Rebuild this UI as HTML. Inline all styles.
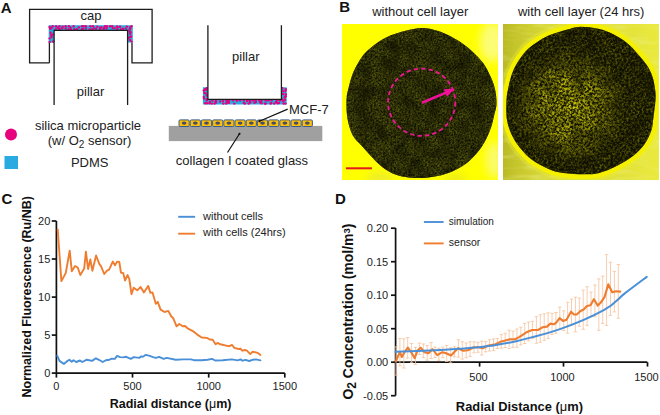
<!DOCTYPE html>
<html><head><meta charset="utf-8"><style>
html,body{margin:0;padding:0;background:#fff;width:660px;height:415px;overflow:hidden}
svg{display:block}
text{font-family:"Liberation Sans",sans-serif}
</style></head><body>
<svg width="660" height="415" viewBox="0 0 660 415">
<defs>
<filter id="spk1" x="0" y="0" width="100%" height="100%" filterUnits="userSpaceOnUse" color-interpolation-filters="sRGB">
  <feTurbulence type="fractalNoise" baseFrequency="0.55" numOctaves="4" seed="4" result="n"/>
  <feColorMatrix in="n" type="matrix" values="0 0 0 0 0.34  0 0 0 0 0.36  0 0 0 0 0.05  2.0 0 0 0 -0.48"/>
</filter>
<filter id="spk2" x="0" y="0" width="100%" height="100%" filterUnits="userSpaceOnUse" color-interpolation-filters="sRGB">
  <feTurbulence type="fractalNoise" baseFrequency="0.45" numOctaves="3" seed="9" result="n"/>
  <feColorMatrix in="n" type="matrix" values="0 0 0 0 0.4  0 0 0 0 0.4  0 0 0 0 0.03  2.4 0 0 0 -0.9"/>
</filter>
<filter id="streak" x="0" y="0" width="100%" height="100%" filterUnits="userSpaceOnUse" color-interpolation-filters="sRGB">
  <feTurbulence type="fractalNoise" baseFrequency="0.04 0.2" numOctaves="2" seed="2" result="n"/>
  <feColorMatrix in="n" type="matrix" values="0 0 0 0 0.95  0 0 0 0 0.95  0 0 0 0 0.6  2.5 0 0 0 -1.1"/>
</filter>
<radialGradient id="ctr2" cx="569" cy="106" r="58" gradientUnits="userSpaceOnUse">
  <stop offset="0" stop-color="#fff"/>
  <stop offset="0.45" stop-color="#fff" stop-opacity="0.75"/>
  <stop offset="1" stop-color="#fff" stop-opacity="0"/>
</radialGradient>
<linearGradient id="out2" x1="503" y1="0" x2="659" y2="0" gradientUnits="userSpaceOnUse">
  <stop offset="0" stop-color="#a0a018" stop-opacity="0.6"/>
  <stop offset="0.5" stop-color="#d8d838" stop-opacity="0"/>
  <stop offset="1" stop-color="#f4f440" stop-opacity="0.5"/>
</linearGradient>
<mask id="m2" maskUnits="userSpaceOnUse" x="503" y="24" width="156" height="156"><rect x="503" y="24" width="156" height="156" fill="url(#ctr2)"/></mask>
<filter id="spk3" x="0" y="0" width="100%" height="100%" filterUnits="userSpaceOnUse" color-interpolation-filters="sRGB">
  <feTurbulence type="fractalNoise" baseFrequency="0.42" numOctaves="3" seed="21" result="n"/>
  <feColorMatrix in="n" type="matrix" values="0 0 0 0 0.85  0 0 0 0 0.83  0 0 0 0 0.04  3.4 0 0 0 -1.3"/>
</filter>
<clipPath id="c1"><path d="M422.0 27.9 C427.3 27.9 432.2 29.1 437.3 30.7 C442.4 32.3 447.9 34.9 452.7 37.5 C457.5 40.1 462.0 43.0 466.2 46.2 C470.4 49.4 474.5 53.4 477.7 56.8 C480.9 60.2 483.1 62.9 485.4 66.4 C487.6 69.9 489.6 74.2 491.2 78.0 C492.8 81.8 494.2 85.2 495.1 89.5 C496.0 93.8 496.7 99.7 496.5 104.0 C496.3 108.3 495.0 111.6 494.1 115.4 C493.2 119.2 492.6 122.8 491.2 127.0 C489.8 131.2 487.6 136.3 485.4 140.5 C483.1 144.7 480.9 148.2 477.7 152.0 C474.5 155.8 470.4 160.4 466.2 163.6 C462.0 166.8 457.5 169.2 452.7 171.3 C447.9 173.4 442.4 175.0 437.3 176.1 C432.2 177.2 427.3 177.8 422.0 178.0 C416.7 178.2 410.6 177.9 405.6 177.1 C400.6 176.3 396.3 175.1 392.1 173.2 C387.9 171.3 384.0 168.4 380.5 165.5 C377.0 162.6 374.1 159.2 370.9 155.9 C367.7 152.6 364.6 149.0 361.5 145.5 C358.4 142.0 354.8 139.5 352.5 135.0 C350.2 130.5 348.5 124.3 347.5 118.5 C346.5 112.7 346.3 105.2 346.5 100.0 C346.7 94.8 347.7 91.9 348.7 87.6 C349.7 83.3 351.0 78.3 352.6 74.1 C354.2 69.9 356.3 66.0 358.4 62.5 C360.5 59.0 362.1 56.1 365.1 52.9 C368.2 49.7 372.5 46.2 376.7 43.3 C380.9 40.4 385.4 37.7 390.2 35.6 C395.0 33.5 400.3 32.0 405.6 30.7 C410.9 29.4 416.7 27.9 422.0 27.9Z"/></clipPath><clipPath id="c2"><path d="M579.0 26.9 C584.3 26.7 592.5 27.5 598.3 28.8 C604.1 30.1 608.9 32.2 613.7 34.6 C618.5 37.0 623.4 40.2 627.2 43.3 C631.1 46.3 633.6 49.4 636.8 52.9 C640.0 56.4 643.8 60.6 646.4 64.5 C649.0 68.3 650.8 71.8 652.2 76.0 C653.7 80.2 654.6 85.5 655.1 89.5 C655.6 93.5 655.8 95.0 655.5 100.0 C655.2 105.0 653.9 114.2 653.2 119.3 C652.5 124.4 652.8 126.6 651.3 130.8 C649.8 135.0 647.5 140.1 644.5 144.3 C641.5 148.5 637.5 152.4 633.0 155.9 C628.5 159.4 623.3 162.6 617.5 165.5 C611.7 168.4 604.7 171.8 598.3 173.2 C591.9 174.6 585.6 174.3 579.0 174.2 C572.4 174.0 564.5 173.4 558.9 172.3 C553.3 171.2 549.9 169.5 545.4 167.4 C540.9 165.3 536.1 162.9 531.9 159.7 C527.7 156.5 523.7 152.4 520.3 148.2 C516.9 144.0 513.9 139.5 511.7 134.7 C509.5 129.9 507.8 125.1 506.9 119.3 C506.0 113.5 506.2 105.6 506.5 100.0 C506.8 94.4 507.8 90.3 508.8 85.7 C509.8 81.1 510.8 76.5 512.6 72.2 C514.4 67.9 516.8 63.5 519.4 59.6 C522.0 55.7 524.6 52.2 528.0 49.0 C531.4 45.8 535.7 42.8 539.6 40.4 C543.5 38.0 546.7 36.4 551.2 34.6 C555.7 32.8 562.0 31.1 566.6 29.8 C571.2 28.5 573.7 27.1 579.0 26.9Z"/></clipPath>
<clipPath id="im2"><rect x="503" y="24" width="156" height="156"/></clipPath>
<filter id="blot" x="0" y="0" width="100%" height="100%" filterUnits="userSpaceOnUse" color-interpolation-filters="sRGB">
  <feTurbulence type="fractalNoise" baseFrequency="0.07" numOctaves="2" seed="5" result="n"/>
  <feColorMatrix in="n" type="matrix" values="0 0 0 0 0.04  0 0 0 0 0.04  0 0 0 0 0  2.2 0 0 0 -0.75"/>
</filter>
<clipPath id="im1"><rect x="342" y="24" width="156" height="156"/></clipPath>
<filter id="blur3" x="-50%" y="-50%" width="200%" height="200%"><feGaussianBlur stdDeviation="4"/></filter>
</defs>
<rect width="660" height="415" fill="#fff"/>
<g id="A"><text x="0.8" y="12.9" font-family="Liberation Sans, sans-serif" font-size="15" font-weight="bold" fill="#111">A</text><path d="M49.4 62.8 H29.6 V9.3 H152.1 V62.8 H132 V42.5 M49.4 62.8 V42.5" fill="none" stroke="#1c1c1c" stroke-width="1.3"/><path d="M48.7 42.8 V25.3 H132.8 V42.5 H127.6 V30.3 H54.1 V42.8 Z" fill="#29abe2"/><g fill="#e6007e"><circle cx="49.6" cy="26.9" r="1.2"/><circle cx="50.1" cy="28.7" r="1.2"/><circle cx="52.7" cy="26.2" r="1.2"/><circle cx="51.5" cy="28.0" r="1.2"/><circle cx="56.1" cy="26.2" r="1.2"/><circle cx="55.6" cy="29.4" r="1.2"/><circle cx="57.6" cy="27.7" r="1.2"/><circle cx="58.8" cy="28.5" r="1.2"/><circle cx="59.5" cy="26.2" r="1.2"/><circle cx="59.7" cy="29.3" r="1.2"/><circle cx="62.8" cy="26.7" r="1.2"/><circle cx="62.0" cy="28.3" r="1.2"/><circle cx="65.6" cy="26.2" r="1.2"/><circle cx="65.7" cy="28.5" r="1.2"/><circle cx="68.9" cy="26.2" r="1.2"/><circle cx="68.5" cy="29.4" r="1.2"/><circle cx="70.5" cy="27.8" r="1.2"/><circle cx="70.8" cy="29.4" r="1.2"/><circle cx="73.6" cy="26.2" r="1.2"/><circle cx="74.4" cy="29.2" r="1.2"/><circle cx="76.8" cy="29.3" r="1.2"/><circle cx="78.8" cy="27.4" r="1.2"/><circle cx="82.0" cy="26.2" r="1.2"/><circle cx="81.9" cy="29.4" r="1.2"/><circle cx="83.6" cy="26.3" r="1.2"/><circle cx="82.9" cy="29.0" r="1.2"/><circle cx="85.8" cy="26.2" r="1.2"/><circle cx="85.8" cy="28.4" r="1.2"/><circle cx="90.4" cy="26.2" r="1.2"/><circle cx="89.6" cy="29.4" r="1.2"/><circle cx="93.0" cy="26.2" r="1.2"/><circle cx="91.7" cy="29.4" r="1.2"/><circle cx="93.8" cy="28.4" r="1.2"/><circle cx="97.3" cy="26.8" r="1.2"/><circle cx="96.0" cy="28.8" r="1.2"/><circle cx="100.1" cy="27.7" r="1.2"/><circle cx="100.0" cy="29.3" r="1.2"/><circle cx="101.4" cy="27.5" r="1.2"/><circle cx="103.6" cy="29.4" r="1.2"/><circle cx="104.9" cy="26.2" r="1.2"/><circle cx="104.1" cy="28.0" r="1.2"/><circle cx="106.9" cy="26.2" r="1.2"/><circle cx="106.5" cy="28.2" r="1.2"/><circle cx="110.1" cy="26.2" r="1.2"/><circle cx="112.2" cy="26.2" r="1.2"/><circle cx="112.7" cy="28.1" r="1.2"/><circle cx="117.0" cy="26.5" r="1.2"/><circle cx="114.6" cy="28.1" r="1.2"/><circle cx="117.7" cy="27.4" r="1.2"/><circle cx="117.1" cy="29.4" r="1.2"/><circle cx="120.0" cy="26.7" r="1.2"/><circle cx="121.0" cy="29.4" r="1.2"/><circle cx="123.0" cy="28.7" r="1.2"/><circle cx="126.9" cy="26.6" r="1.2"/><circle cx="125.8" cy="28.4" r="1.2"/><circle cx="130.1" cy="27.4" r="1.2"/><circle cx="129.7" cy="29.4" r="1.2"/><circle cx="131.5" cy="26.2" r="1.2"/><circle cx="130.2" cy="28.5" r="1.2"/><circle cx="50.6" cy="32.7" r="1.2"/><circle cx="51.2" cy="35.3" r="1.2"/><circle cx="49.6" cy="38.4" r="1.2"/><circle cx="49.6" cy="41.9" r="1.2"/><circle cx="52.7" cy="34.4" r="1.2"/><circle cx="51.6" cy="37.0" r="1.2"/><circle cx="53.2" cy="41.5" r="1.2"/><circle cx="129.7" cy="31.2" r="1.2"/><circle cx="130.1" cy="33.7" r="1.2"/><circle cx="130.1" cy="36.9" r="1.2"/><circle cx="128.5" cy="38.0" r="1.2"/><circle cx="130.6" cy="32.3" r="1.2"/><circle cx="131.1" cy="36.5" r="1.2"/><circle cx="130.2" cy="40.0" r="1.2"/><circle cx="131.6" cy="41.6" r="1.2"/></g><path d="M54.1 105 V30.3 H127.6 V105" fill="none" stroke="#1c1c1c" stroke-width="1.3"/><text x="91" y="20" text-anchor="middle" font-family="Liberation Sans, sans-serif" font-size="13" fill="#222">cap</text><text x="90.5" y="95.5" text-anchor="middle" font-family="Liberation Sans, sans-serif" font-size="13" fill="#222">pillar</text><circle cx="11" cy="134.5" r="6" fill="#e6007e"/><rect x="4.5" y="156" width="13.5" height="13" fill="#29abe2"/><text x="88" y="130" text-anchor="middle" font-family="Liberation Sans, sans-serif" font-size="13" fill="#222">silica microparticle</text><text x="89.5" y="145" text-anchor="middle" font-family="Liberation Sans, sans-serif" font-size="13" fill="#222">(w/ O<tspan font-size="10" dy="2.5">2</tspan><tspan dy="-2.5"> sensor)</tspan></text><text x="89.7" y="166.5" text-anchor="middle" font-family="Liberation Sans, sans-serif" font-size="13" fill="#222">PDMS</text><path d="M202.9 87.3 H286.7 V104.5 H202.9 Z" fill="#29abe2"/><g fill="#e6007e"><circle cx="205.1" cy="89.3" r="1.2"/><circle cx="203.8" cy="90.5" r="1.2"/><circle cx="204.4" cy="92.9" r="1.2"/><circle cx="203.8" cy="96.9" r="1.2"/><circle cx="204.0" cy="98.6" r="1.2"/><circle cx="205.2" cy="103.3" r="1.2"/><circle cx="206.7" cy="88.2" r="1.2"/><circle cx="205.9" cy="89.8" r="1.2"/><circle cx="205.8" cy="93.4" r="1.2"/><circle cx="206.8" cy="95.5" r="1.2"/><circle cx="206.8" cy="99.1" r="1.2"/><circle cx="206.8" cy="100.2" r="1.2"/><circle cx="207.0" cy="103.3" r="1.2"/><circle cx="209.9" cy="101.7" r="1.2"/><circle cx="209.5" cy="103.2" r="1.2"/><circle cx="212.3" cy="100.6" r="1.2"/><circle cx="211.8" cy="103.6" r="1.2"/><circle cx="215.5" cy="101.8" r="1.2"/><circle cx="214.6" cy="103.6" r="1.2"/><circle cx="216.1" cy="100.3" r="1.2"/><circle cx="216.0" cy="102.6" r="1.2"/><circle cx="220.2" cy="101.4" r="1.2"/><circle cx="222.9" cy="101.1" r="1.2"/><circle cx="223.3" cy="103.6" r="1.2"/><circle cx="226.2" cy="100.4" r="1.2"/><circle cx="226.2" cy="103.6" r="1.2"/><circle cx="227.4" cy="100.7" r="1.2"/><circle cx="226.8" cy="102.8" r="1.2"/><circle cx="229.0" cy="100.8" r="1.2"/><circle cx="228.9" cy="102.8" r="1.2"/><circle cx="232.9" cy="100.3" r="1.2"/><circle cx="236.7" cy="100.3" r="1.2"/><circle cx="234.3" cy="103.6" r="1.2"/><circle cx="237.1" cy="100.5" r="1.2"/><circle cx="240.1" cy="100.3" r="1.2"/><circle cx="243.9" cy="100.3" r="1.2"/><circle cx="243.8" cy="103.0" r="1.2"/><circle cx="247.1" cy="101.0" r="1.2"/><circle cx="244.9" cy="103.6" r="1.2"/><circle cx="249.5" cy="100.6" r="1.2"/><circle cx="248.7" cy="103.6" r="1.2"/><circle cx="250.2" cy="100.7" r="1.2"/><circle cx="250.2" cy="102.4" r="1.2"/><circle cx="253.1" cy="100.3" r="1.2"/><circle cx="254.5" cy="102.7" r="1.2"/><circle cx="255.6" cy="100.3" r="1.2"/><circle cx="255.8" cy="102.0" r="1.2"/><circle cx="259.2" cy="100.3" r="1.2"/><circle cx="260.2" cy="102.2" r="1.2"/><circle cx="261.5" cy="100.7" r="1.2"/><circle cx="261.4" cy="103.2" r="1.2"/><circle cx="265.6" cy="100.3" r="1.2"/><circle cx="264.9" cy="103.6" r="1.2"/><circle cx="266.6" cy="100.3" r="1.2"/><circle cx="265.8" cy="103.6" r="1.2"/><circle cx="268.7" cy="100.3" r="1.2"/><circle cx="270.6" cy="103.6" r="1.2"/><circle cx="271.5" cy="100.3" r="1.2"/><circle cx="271.3" cy="103.1" r="1.2"/><circle cx="276.0" cy="101.9" r="1.2"/><circle cx="274.2" cy="103.6" r="1.2"/><circle cx="277.1" cy="100.3" r="1.2"/><circle cx="277.4" cy="103.2" r="1.2"/><circle cx="280.1" cy="100.3" r="1.2"/><circle cx="279.0" cy="103.0" r="1.2"/><circle cx="282.3" cy="88.2" r="1.2"/><circle cx="283.0" cy="91.1" r="1.2"/><circle cx="283.1" cy="94.0" r="1.2"/><circle cx="282.3" cy="99.5" r="1.2"/><circle cx="283.3" cy="101.2" r="1.2"/><circle cx="283.6" cy="103.6" r="1.2"/><circle cx="285.8" cy="89.3" r="1.2"/><circle cx="285.4" cy="91.0" r="1.2"/><circle cx="285.8" cy="94.2" r="1.2"/><circle cx="285.8" cy="96.3" r="1.2"/><circle cx="284.7" cy="97.2" r="1.2"/><circle cx="285.0" cy="99.8" r="1.2"/><circle cx="285.5" cy="103.6" r="1.2"/></g><path d="M207.9 25.2 V99.4 H281.4 V25.2" fill="#fff" stroke="#1c1c1c" stroke-width="1.3"/><text x="245.8" y="61" text-anchor="middle" font-family="Liberation Sans, sans-serif" font-size="13" fill="#222">pillar</text><rect x="168.8" y="125.9" width="153.5" height="15.2" fill="#a0a0a0"/><rect x="179.0" y="119.9" width="10.2" height="6.6" rx="1.2" fill="#fbbf0a" stroke="#3b5b8c" stroke-width="1"/><ellipse cx="184.1" cy="123.1" rx="2.4" ry="1.6" fill="#4a4e62"/><rect x="190.2" y="119.9" width="10.2" height="6.6" rx="1.2" fill="#fbbf0a" stroke="#3b5b8c" stroke-width="1"/><ellipse cx="195.3" cy="123.1" rx="2.4" ry="1.6" fill="#4a4e62"/><rect x="201.4" y="119.9" width="10.2" height="6.6" rx="1.2" fill="#fbbf0a" stroke="#3b5b8c" stroke-width="1"/><ellipse cx="206.5" cy="123.1" rx="2.4" ry="1.6" fill="#4a4e62"/><rect x="212.6" y="119.9" width="10.2" height="6.6" rx="1.2" fill="#fbbf0a" stroke="#3b5b8c" stroke-width="1"/><ellipse cx="217.7" cy="123.1" rx="2.4" ry="1.6" fill="#4a4e62"/><rect x="223.8" y="119.9" width="10.2" height="6.6" rx="1.2" fill="#fbbf0a" stroke="#3b5b8c" stroke-width="1"/><ellipse cx="228.9" cy="123.1" rx="2.4" ry="1.6" fill="#4a4e62"/><rect x="235.0" y="119.9" width="10.2" height="6.6" rx="1.2" fill="#fbbf0a" stroke="#3b5b8c" stroke-width="1"/><ellipse cx="240.1" cy="123.1" rx="2.4" ry="1.6" fill="#4a4e62"/><rect x="246.2" y="119.9" width="10.2" height="6.6" rx="1.2" fill="#fbbf0a" stroke="#3b5b8c" stroke-width="1"/><ellipse cx="251.3" cy="123.1" rx="2.4" ry="1.6" fill="#4a4e62"/><rect x="257.4" y="119.9" width="10.2" height="6.6" rx="1.2" fill="#fbbf0a" stroke="#3b5b8c" stroke-width="1"/><ellipse cx="262.5" cy="123.1" rx="2.4" ry="1.6" fill="#4a4e62"/><rect x="268.6" y="119.9" width="10.2" height="6.6" rx="1.2" fill="#fbbf0a" stroke="#3b5b8c" stroke-width="1"/><ellipse cx="273.7" cy="123.1" rx="2.4" ry="1.6" fill="#4a4e62"/><rect x="279.8" y="119.9" width="10.2" height="6.6" rx="1.2" fill="#fbbf0a" stroke="#3b5b8c" stroke-width="1"/><ellipse cx="284.9" cy="123.1" rx="2.4" ry="1.6" fill="#4a4e62"/><rect x="291.0" y="119.9" width="10.2" height="6.6" rx="1.2" fill="#fbbf0a" stroke="#3b5b8c" stroke-width="1"/><ellipse cx="296.1" cy="123.1" rx="2.4" ry="1.6" fill="#4a4e62"/><rect x="302.2" y="119.9" width="10.2" height="6.6" rx="1.2" fill="#fbbf0a" stroke="#3b5b8c" stroke-width="1"/><ellipse cx="307.3" cy="123.1" rx="2.4" ry="1.6" fill="#4a4e62"/><path d="M287.7 109.1 L259.4 121.2 M239.5 133.8 L227.5 152.5" stroke="#111" stroke-width="1.2" fill="none"/><circle cx="259.4" cy="121.2" r="1.1" fill="#111"/><circle cx="239.5" cy="133.8" r="1.1" fill="#111"/><text x="289" y="113.7" font-family="Liberation Sans, sans-serif" font-size="13" fill="#222">MCF-7</text><text x="242" y="165" text-anchor="middle" font-family="Liberation Sans, sans-serif" font-size="13" fill="#222">collagen I coated glass</text></g><g id="B"><text x="339.2" y="11.8" font-family="Liberation Sans, sans-serif" font-size="15" font-weight="bold" fill="#111">B</text><text x="420.2" y="15.5" text-anchor="middle" font-family="Liberation Sans, sans-serif" font-size="13" fill="#222">without cell layer</text><text x="581.2" y="15.5" text-anchor="middle" font-family="Liberation Sans, sans-serif" font-size="13" fill="#222">with cell layer (24 hrs)</text><rect x="342" y="24" width="156" height="156" fill="#ffff00"/><g clip-path="url(#im1)" filter="url(#blur3)" opacity="0.55"><ellipse cx="492" cy="42" rx="12" ry="20" fill="#fafad8"/><ellipse cx="494" cy="160" rx="8" ry="18" fill="#f6f6c8"/><ellipse cx="380" cy="178" rx="14" ry="5" fill="#d8d860"/><ellipse cx="455" cy="179" rx="12" ry="4" fill="#d0d040"/></g><g clip-path="url(#c1)"><rect x="342" y="24" width="156" height="156" fill="#121204"/><rect x="342" y="24" width="156" height="156" filter="url(#spk1)" opacity="0.9"/><rect x="342" y="24" width="156" height="156" filter="url(#blot)" opacity="0.55"/></g><circle cx="421.7" cy="102.2" r="33.6" fill="none" stroke="#e8198e" stroke-width="1.8" stroke-dasharray="4.5 3"/><path d="M422 102.7 L446 92.6" stroke="#f0109a" stroke-width="2.6"/><path d="M454.8 88.5 L443.7 89.3 L447.1 96.7 Z" fill="#f0109a"/><path d="M345.9 168.3 H371.9" stroke="#e3191c" stroke-width="2"/><g clip-path="url(#im2)"><rect x="503" y="24" width="156" height="156" fill="#e0e03a"/><rect x="503" y="24" width="156" height="156" fill="url(#out2)"/><rect x="503" y="24" width="156" height="156" filter="url(#streak)" opacity="0.35"/><path d="M579.0 26.9 C584.3 26.7 592.5 27.5 598.3 28.8 C604.1 30.1 608.9 32.2 613.7 34.6 C618.5 37.0 623.4 40.2 627.2 43.3 C631.1 46.3 633.6 49.4 636.8 52.9 C640.0 56.4 643.8 60.6 646.4 64.5 C649.0 68.3 650.8 71.8 652.2 76.0 C653.7 80.2 654.6 85.5 655.1 89.5 C655.6 93.5 655.8 95.0 655.5 100.0 C655.2 105.0 653.9 114.2 653.2 119.3 C652.5 124.4 652.8 126.6 651.3 130.8 C649.8 135.0 647.5 140.1 644.5 144.3 C641.5 148.5 637.5 152.4 633.0 155.9 C628.5 159.4 623.3 162.6 617.5 165.5 C611.7 168.4 604.7 171.8 598.3 173.2 C591.9 174.6 585.6 174.3 579.0 174.2 C572.4 174.0 564.5 173.4 558.9 172.3 C553.3 171.2 549.9 169.5 545.4 167.4 C540.9 165.3 536.1 162.9 531.9 159.7 C527.7 156.5 523.7 152.4 520.3 148.2 C516.9 144.0 513.9 139.5 511.7 134.7 C509.5 129.9 507.8 125.1 506.9 119.3 C506.0 113.5 506.2 105.6 506.5 100.0 C506.8 94.4 507.8 90.3 508.8 85.7 C509.8 81.1 510.8 76.5 512.6 72.2 C514.4 67.9 516.8 63.5 519.4 59.6 C522.0 55.7 524.6 52.2 528.0 49.0 C531.4 45.8 535.7 42.8 539.6 40.4 C543.5 38.0 546.7 36.4 551.2 34.6 C555.7 32.8 562.0 31.1 566.6 29.8 C571.2 28.5 573.7 27.1 579.0 26.9Z" fill="none" stroke="#eeee30" stroke-width="15" opacity="0.35"/><path d="M579.0 26.9 C584.3 26.7 592.5 27.5 598.3 28.8 C604.1 30.1 608.9 32.2 613.7 34.6 C618.5 37.0 623.4 40.2 627.2 43.3 C631.1 46.3 633.6 49.4 636.8 52.9 C640.0 56.4 643.8 60.6 646.4 64.5 C649.0 68.3 650.8 71.8 652.2 76.0 C653.7 80.2 654.6 85.5 655.1 89.5 C655.6 93.5 655.8 95.0 655.5 100.0 C655.2 105.0 653.9 114.2 653.2 119.3 C652.5 124.4 652.8 126.6 651.3 130.8 C649.8 135.0 647.5 140.1 644.5 144.3 C641.5 148.5 637.5 152.4 633.0 155.9 C628.5 159.4 623.3 162.6 617.5 165.5 C611.7 168.4 604.7 171.8 598.3 173.2 C591.9 174.6 585.6 174.3 579.0 174.2 C572.4 174.0 564.5 173.4 558.9 172.3 C553.3 171.2 549.9 169.5 545.4 167.4 C540.9 165.3 536.1 162.9 531.9 159.7 C527.7 156.5 523.7 152.4 520.3 148.2 C516.9 144.0 513.9 139.5 511.7 134.7 C509.5 129.9 507.8 125.1 506.9 119.3 C506.0 113.5 506.2 105.6 506.5 100.0 C506.8 94.4 507.8 90.3 508.8 85.7 C509.8 81.1 510.8 76.5 512.6 72.2 C514.4 67.9 516.8 63.5 519.4 59.6 C522.0 55.7 524.6 52.2 528.0 49.0 C531.4 45.8 535.7 42.8 539.6 40.4 C543.5 38.0 546.7 36.4 551.2 34.6 C555.7 32.8 562.0 31.1 566.6 29.8 C571.2 28.5 573.7 27.1 579.0 26.9Z" fill="none" stroke="#f4f000" stroke-width="9"/></g><g clip-path="url(#c2)"><rect x="503" y="24" width="156" height="156" fill="#121204"/><rect x="503" y="24" width="156" height="156" filter="url(#spk2)" opacity="0.9"/><rect x="503" y="24" width="156" height="156" filter="url(#spk3)" mask="url(#m2)"/><rect x="503" y="24" width="156" height="156" filter="url(#blot)" opacity="0.45"/></g></g><g id="C"><text x="1.6" y="203.8" font-family="Liberation Sans, sans-serif" font-size="15" font-weight="bold" fill="#111">C</text><path d="M56.4 221 V373.1 H284.8" fill="none" stroke="#111" stroke-width="1.7"/><path d="M51.8 373.1 H56.4" stroke="#111" stroke-width="1.7"/><text x="50.3" y="377.1" text-anchor="end" font-family="Liberation Sans, sans-serif" font-size="11" fill="#222">0</text><path d="M51.8 335.1 H56.4" stroke="#111" stroke-width="1.7"/><text x="50.3" y="339.1" text-anchor="end" font-family="Liberation Sans, sans-serif" font-size="11" fill="#222">5</text><path d="M51.8 297.1 H56.4" stroke="#111" stroke-width="1.7"/><text x="50.3" y="301.1" text-anchor="end" font-family="Liberation Sans, sans-serif" font-size="11" fill="#222">10</text><path d="M51.8 259.0 H56.4" stroke="#111" stroke-width="1.7"/><text x="50.3" y="263.0" text-anchor="end" font-family="Liberation Sans, sans-serif" font-size="11" fill="#222">15</text><path d="M51.8 221.0 H56.4" stroke="#111" stroke-width="1.7"/><text x="50.3" y="225.0" text-anchor="end" font-family="Liberation Sans, sans-serif" font-size="11" fill="#222">20</text><path d="M56.4 373.1 V377.6" stroke="#111" stroke-width="1.7"/><text x="56.4" y="390" text-anchor="middle" font-family="Liberation Sans, sans-serif" font-size="11" fill="#222">0</text><path d="M132.5 373.1 V377.6" stroke="#111" stroke-width="1.7"/><text x="132.5" y="390" text-anchor="middle" font-family="Liberation Sans, sans-serif" font-size="11" fill="#222">500</text><path d="M208.7 373.1 V377.6" stroke="#111" stroke-width="1.7"/><text x="208.7" y="390" text-anchor="middle" font-family="Liberation Sans, sans-serif" font-size="11" fill="#222">1000</text><path d="M284.8 373.1 V377.6" stroke="#111" stroke-width="1.7"/><text x="284.8" y="390" text-anchor="middle" font-family="Liberation Sans, sans-serif" font-size="11" fill="#222">1500</text><text x="170.6" y="408" text-anchor="middle" font-family="Liberation Sans, sans-serif" font-size="12.5" font-weight="bold" fill="#111">Radial distance (<tspan font-weight="normal">μ</tspan>m)</text><text transform="translate(31.3 296.8) rotate(-90)" text-anchor="middle" font-family="Liberation Sans, sans-serif" font-size="12.5" font-weight="bold" fill="#111">Normalized Fluorescence (Ru/NB)</text><path d="M57.3 355.9 L59.5 360.9 L63.8 363.9 L66.8 361.4 L69.4 359.8 L71.7 361.7 L73.5 360.2 L76.2 362.0 L80.0 360.5 L82.3 362.0 L86.8 359.7 L92.1 360.9 L95.9 358.3 L98.9 359.8 L102.7 362.0 L105.8 360.2 L109.5 359.7 L111.8 358.6 L114.8 358.9 L117.1 355.9 L120.2 357.1 L123.2 357.4 L126.2 356.8 L130.8 358.9 L133.8 357.1 L139.1 357.9 L141.4 356.4 L142.9 356.8 L145.9 354.8 L149.7 355.9 L153.0 357.1 L156.1 357.9 L159.1 356.8 L163.6 358.9 L166.7 357.9 L175.8 359.8 L183.3 359.4 L190.9 359.4 L193.9 360.2 L201.5 360.2 L207.6 359.8 L212.1 358.9 L215.2 360.5 L222.7 360.2 L231.8 359.4 L237.7 360.4 L240.6 359.4 L242.5 360.7 L245.4 359.9 L249.3 361.0 L253.1 359.7 L256.0 359.4 L260.4 360.4" fill="none" stroke="#4a90d8" stroke-width="1.9" stroke-linejoin="round" stroke-linecap="round" /><path d="M57.7 229.5 L61.4 281.1 L65.8 272.9 L69.7 250.6 L71.8 271.2 L75.1 266.0 L77.7 267.5 L80.3 275.0 L84.2 268.6 L85.9 251.6 L88.1 269.0 L90.3 259.5 L92.4 270.7 L96.1 255.5 L99.4 264.2 L101.1 266.4 L104.2 274.0 L107.0 270.7 L109.1 269.7 L112.8 261.6 L115.0 265.3 L117.2 261.6 L119.3 262.0 L121.0 272.9 L123.2 272.9 L125.0 280.5 L127.6 275.0 L129.3 279.0 L131.5 294.2 L133.7 287.7 L137.3 290.3 L140.6 287.0 L143.9 292.4 L148.2 285.9 L150.4 292.9 L152.5 292.4 L155.8 303.8 L157.7 301.8 L160.6 309.6 L164.5 312.0 L168.3 310.9 L171.2 316.3 L173.2 318.2 L176.6 326.3 L179.3 324.0 L182.8 326.3 L185.1 326.0 L187.6 328.3 L193.4 331.4 L197.3 334.6 L201.7 337.5 L206.9 337.9 L209.8 339.5 L212.7 339.8 L215.6 344.3 L217.5 342.9 L220.4 344.3 L226.2 345.6 L229.1 346.2 L232.1 345.0 L234.3 347.8 L236.8 348.5 L239.2 349.1 L240.1 348.5 L242.5 350.7 L245.0 350.0 L246.9 350.7 L250.3 354.1 L252.7 351.7 L256.0 352.4 L258.0 353.1 L260.4 354.9" fill="none" stroke="#ef7d2f" stroke-width="1.9" stroke-linejoin="round" stroke-linecap="round" /><path d="M178.2 216.8 H195.1" stroke="#4a90d8" stroke-width="1.9"/><path d="M178.2 233.7 H195.1" stroke="#ef7d2f" stroke-width="1.9"/><text x="203.1" y="219.6" font-family="Liberation Sans, sans-serif" font-size="11" fill="#222">without cells</text><text x="203.1" y="236.4" font-family="Liberation Sans, sans-serif" font-size="11" fill="#222">with cells (24hrs)</text></g><g id="D"><text x="334.9" y="203.9" font-family="Liberation Sans, sans-serif" font-size="15" font-weight="bold" fill="#111">D</text><path d="M395.6 228 V395.6" fill="none" stroke="#111" stroke-width="1.7"/><path d="M395.6 362.2 H647.3" fill="none" stroke="#111" stroke-width="1.7"/><path d="M391 228.2 H395.6" stroke="#111" stroke-width="1.7"/><text x="388.2" y="232.2" text-anchor="end" font-family="Liberation Sans, sans-serif" font-size="11" fill="#222">0.20</text><path d="M391 261.7 H395.6" stroke="#111" stroke-width="1.7"/><text x="388.2" y="265.7" text-anchor="end" font-family="Liberation Sans, sans-serif" font-size="11" fill="#222">0.15</text><path d="M391 295.2 H395.6" stroke="#111" stroke-width="1.7"/><text x="388.2" y="299.2" text-anchor="end" font-family="Liberation Sans, sans-serif" font-size="11" fill="#222">0.10</text><path d="M391 328.7 H395.6" stroke="#111" stroke-width="1.7"/><text x="388.2" y="332.7" text-anchor="end" font-family="Liberation Sans, sans-serif" font-size="11" fill="#222">0.05</text><path d="M391 362.2 H395.6" stroke="#111" stroke-width="1.7"/><text x="388.2" y="366.2" text-anchor="end" font-family="Liberation Sans, sans-serif" font-size="11" fill="#222">0.00</text><path d="M391 395.7 H395.6" stroke="#111" stroke-width="1.7"/><text x="388.2" y="399.7" text-anchor="end" font-family="Liberation Sans, sans-serif" font-size="11" fill="#222">-0.05</text><path d="M479.6 362.2 V366.6" stroke="#111" stroke-width="1.7"/><text x="478.5" y="381.2" text-anchor="middle" font-family="Liberation Sans, sans-serif" font-size="11" fill="#222">500</text><path d="M563.5 362.2 V366.6" stroke="#111" stroke-width="1.7"/><text x="562.4" y="381.2" text-anchor="middle" font-family="Liberation Sans, sans-serif" font-size="11" fill="#222">1000</text><path d="M647.5 362.2 V366.6" stroke="#111" stroke-width="1.7"/><text x="646.4" y="381.2" text-anchor="middle" font-family="Liberation Sans, sans-serif" font-size="11" fill="#222">1500</text><text x="519.4" y="411.3" text-anchor="middle" font-family="Liberation Sans, sans-serif" font-size="12.9" font-weight="bold" fill="#111">Radial Distance (<tspan font-weight="normal">μ</tspan>m)</text><text transform="translate(353.2 399.6) rotate(-90)" font-family="Liberation Sans, sans-serif" font-size="14" font-weight="bold" fill="#111">O<tspan dy="3" font-size="12">2</tspan><tspan dy="-3"> Concentration (mol/m</tspan><tspan dy="-3.2" font-size="9.5">3</tspan><tspan dy="3.2">)</tspan></text><path d="M396.0 346.8 V375.2 M394.3 346.8 H397.7 M394.3 375.2 H397.7 M399.9 338.6 V365.8 M398.2 338.6 H401.6 M398.2 365.8 H401.6 M403.8 338.8 V368.0 M402.1 338.8 H405.5 M402.1 368.0 H405.5 M407.7 337.5 V358.2 M406.0 337.5 H409.4 M406.0 358.2 H409.4 M411.6 343.5 V362.4 M409.9 343.5 H413.3 M409.9 362.4 H413.3 M415.5 347.4 V364.6 M413.8 347.4 H417.2 M413.8 364.6 H417.2 M419.4 343.0 V354.5 M417.7 343.0 H421.1 M417.7 354.5 H421.1 M423.3 343.9 V357.7 M421.6 343.9 H425.0 M421.6 357.7 H425.0 M427.2 345.5 V360.2 M425.5 345.5 H428.9 M425.5 360.2 H428.9 M431.1 342.6 V358.5 M429.4 342.6 H432.8 M429.4 358.5 H432.8 M435.0 347.1 V357.6 M433.3 347.1 H436.7 M433.3 357.6 H436.7 M438.9 348.2 V360.3 M437.2 348.2 H440.6 M437.2 360.3 H440.6 M442.8 347.1 V357.6 M441.1 347.1 H444.5 M441.1 357.6 H444.5 M446.7 345.4 V361.5 M445.0 345.4 H448.4 M445.0 361.5 H448.4 M450.6 347.7 V362.8 M448.9 347.7 H452.3 M448.9 362.8 H452.3 M454.5 346.7 V356.9 M452.8 346.7 H456.2 M452.8 356.9 H456.2 M458.4 339.8 V357.2 M456.7 339.8 H460.1 M456.7 357.2 H460.1 M462.3 341.8 V359.1 M460.6 341.8 H464.0 M460.6 359.1 H464.0 M466.2 343.0 V357.8 M464.5 343.0 H467.9 M464.5 357.8 H467.9 M470.1 341.8 V356.4 M468.4 341.8 H471.8 M468.4 356.4 H471.8 M474.0 341.8 V352.8 M472.3 341.8 H475.7 M472.3 352.8 H475.7 M477.9 342.3 V352.3 M476.2 342.3 H479.6 M476.2 352.3 H479.6 M481.8 341.1 V355.0 M480.1 341.1 H483.5 M480.1 355.0 H483.5 M485.7 341.6 V351.8 M484.0 341.6 H487.4 M484.0 351.8 H487.4 M489.6 339.7 V351.0 M487.9 339.7 H491.3 M487.9 351.0 H491.3 M493.5 338.8 V350.5 M491.8 338.8 H495.2 M491.8 350.5 H495.2 M497.4 338.4 V348.4 M495.7 338.4 H499.1 M495.7 348.4 H499.1 M501.3 334.6 V348.3 M499.6 334.6 H503.0 M499.6 348.3 H503.0 M505.2 333.3 V347.5 M503.5 333.3 H506.9 M503.5 347.5 H506.9 M509.1 330.2 V348.6 M507.4 330.2 H510.8 M507.4 348.6 H510.8 M513.0 331.1 V347.4 M511.3 331.1 H514.7 M511.3 347.4 H514.7 M516.9 329.1 V347.4 M515.2 329.1 H518.6 M515.2 347.4 H518.6 M520.8 327.2 V344.9 M519.1 327.2 H522.5 M519.1 344.9 H522.5 M524.7 323.4 V343.5 M523.0 323.4 H526.4 M523.0 343.5 H526.4 M528.6 322.0 V340.8 M526.9 322.0 H530.3 M526.9 340.8 H530.3 M532.5 321.3 V338.7 M530.8 321.3 H534.2 M530.8 338.7 H534.2 M536.4 316.7 V343.3 M534.7 316.7 H538.1 M534.7 343.3 H538.1 M540.3 314.8 V342.3 M538.6 314.8 H542.0 M538.6 342.3 H542.0 M544.2 313.8 V340.3 M542.5 313.8 H545.9 M542.5 340.3 H545.9 M548.1 312.8 V338.5 M546.4 312.8 H549.8 M546.4 338.5 H549.8 M552.0 313.3 V334.6 M550.3 313.3 H553.7 M550.3 334.6 H553.7 M555.9 312.5 V333.3 M554.2 312.5 H557.6 M554.2 333.3 H557.6 M559.8 307.1 V329.4 M558.1 307.1 H561.5 M558.1 329.4 H561.5 M563.7 310.8 V330.5 M562.0 310.8 H565.4 M562.0 330.5 H565.4 M567.6 302.3 V333.2 M565.9 302.3 H569.3 M565.9 333.2 H569.3 M571.5 299.1 V325.3 M569.8 299.1 H573.2 M569.8 325.3 H573.2 M575.4 297.2 V331.8 M573.7 297.2 H577.1 M573.7 331.8 H577.1 M579.3 298.1 V326.2 M577.6 298.1 H581.0 M577.6 326.2 H581.0 M583.2 290.1 V329.3 M581.5 290.1 H584.9 M581.5 329.3 H584.9 M587.1 286.7 V325.3 M585.4 286.7 H588.8 M585.4 325.3 H588.8 M591.0 292.1 V316.7 M589.3 292.1 H592.7 M589.3 316.7 H592.7 M594.9 285.0 V316.7 M593.2 285.0 H596.6 M593.2 316.7 H596.6 M598.8 278.9 V330.3 M597.1 278.9 H600.5 M597.1 330.3 H600.5 M602.7 276.1 V323.4 M601.0 276.1 H604.4 M601.0 323.4 H604.4 M606.6 254.6 V325.5 M604.9 254.6 H608.3 M604.9 325.5 H608.3 M610.5 262.2 V315.4 M608.8 262.2 H612.2 M608.8 315.4 H612.2 M614.4 271.4 V311.9 M612.7 271.4 H616.1 M612.7 311.9 H616.1 M618.3 264.5 V318.3 M616.6 264.5 H620.0 M616.6 318.3 H620.0" fill="none" stroke="#f5c29a" stroke-width="0.8"/><path d="M396.0 361.0 L398.0 356.1 L399.9 352.2 L401.9 357.1 L403.9 353.2 L407.8 347.7 L410.8 351.6 L414.7 358.1 L417.7 350.2 L420.6 347.7 L424.5 352.2 L428.5 353.2 L432.4 349.2 L437.3 355.2 L442.3 352.2 L446.2 353.2 L451.1 355.5 L454.1 352.2 L458.0 348.3 L463.0 350.8 L467.9 350.2 L473.8 347.3 L478.7 347.3 L482.7 348.3 L487.6 345.7 L495.5 344.3 L501.4 341.4 L509.2 339.4 L515.0 339.2 L519.6 336.9 L526.4 332.3 L532.2 330.0 L537.9 330.0 L542.4 327.3 L547.0 326.6 L550.4 323.6 L553.9 324.3 L556.2 322.7 L559.6 318.1 L563.0 320.9 L566.5 319.7 L571.0 311.7 L574.0 314.5 L576.7 314.5 L580.2 311.3 L583.6 309.5 L587.0 306.0 L590.5 305.3 L593.9 299.2 L597.8 305.6 L600.8 302.6 L604.6 296.9 L608.3 284.3 L612.2 292.3 L616.1 291.2 L620.2 291.6" fill="none" stroke="#ef7d2f" stroke-width="2.1" stroke-linejoin="round" stroke-linecap="round" /><path d="M395.6 351.8 C402.2 351.6 425.1 350.8 435.5 350.3 C445.9 349.8 450.4 349.4 458 348.8 C465.6 348.2 475.7 347.5 481 347 C486.3 346.5 484.3 346.7 490 345.8 C495.7 344.9 503.2 344.3 515 341.5 C526.8 338.7 545.8 334.2 560.7 328.9 C575.6 323.6 593.5 315.8 604.2 309.9 C614.9 304.0 617.7 298.9 624.8 293.4 C631.9 287.9 643.1 279.6 646.7 276.9" fill="none" stroke="#4a90d8" stroke-width="2" stroke-linecap="round"/><path d="M423.9 222 H443.6" stroke="#4a90d8" stroke-width="1.9"/><path d="M423.9 243.4 H443.6" stroke="#ef7d2f" stroke-width="1.9"/><text x="448.8" y="224.8" font-family="Liberation Sans, sans-serif" font-size="10" fill="#222">simulation</text><text x="448.8" y="245.8" font-family="Liberation Sans, sans-serif" font-size="10.5" fill="#222">sensor</text></g>
</svg></body></html>
